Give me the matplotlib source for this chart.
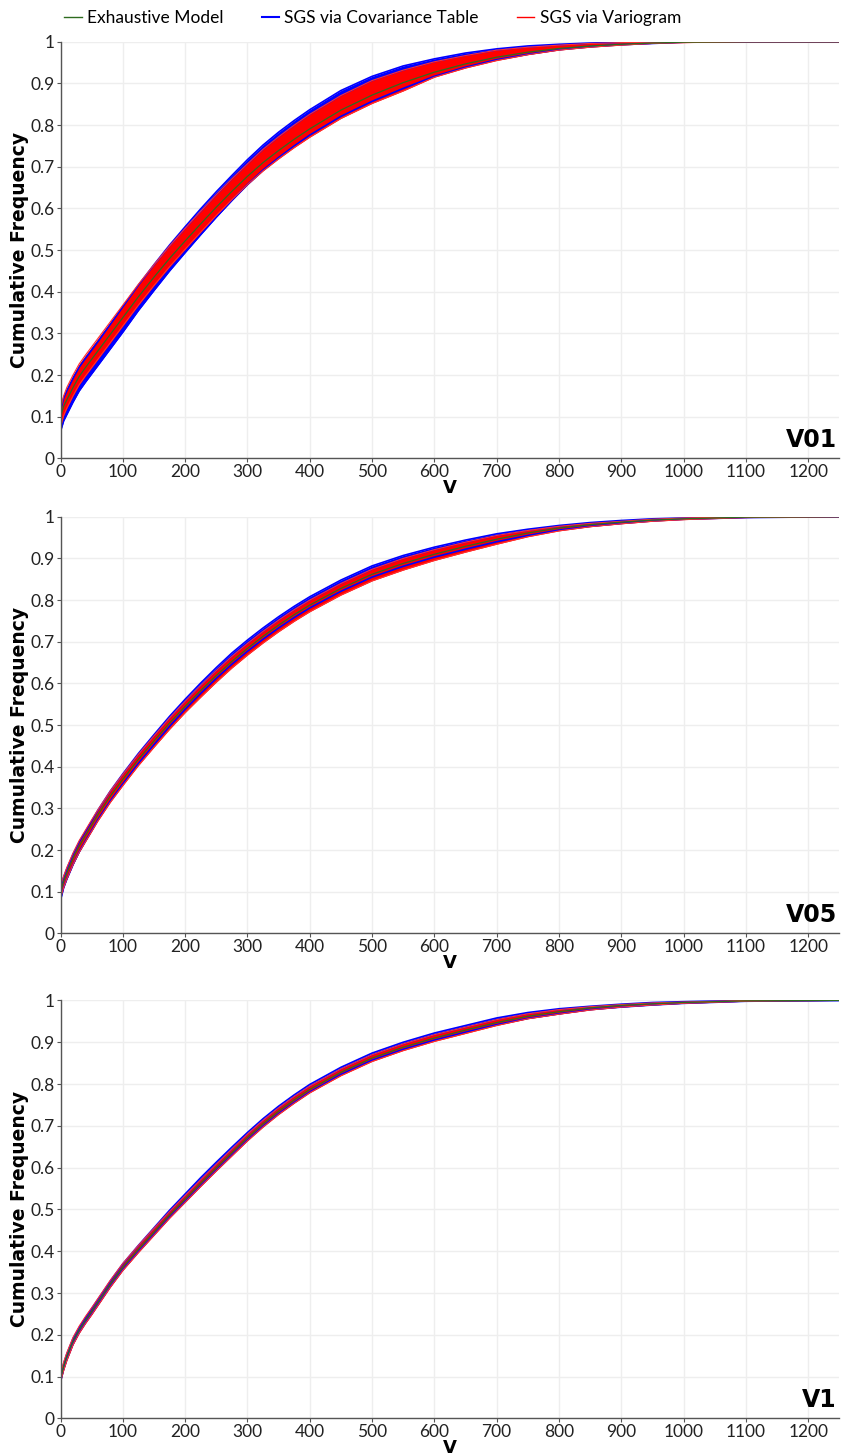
import numpy as np
import matplotlib
matplotlib.use('Agg')
import matplotlib.pyplot as plt

plt.rcParams['font.family'] = ['Lato', 'DejaVu Sans']

v_grid = [0, 5, 10, 20, 30, 40, 50, 60, 80, 100, 125, 150, 175, 200, 225, 250, 275, 300,
          325, 350, 375, 400, 450, 500, 550, 600, 650, 700, 750, 800, 850, 900, 950, 1000,
          1100, 1250]

# V01 : exhaustive model + envelopes of the two realisation sets
v01_green = [0.10, 0.125, 0.14, 0.17, 0.197, 0.218, 0.238, 0.258, 0.298, 0.338, 0.388, 0.435,
             0.48, 0.522, 0.563, 0.603, 0.641, 0.677, 0.71, 0.739, 0.766, 0.791, 0.836, 0.872,
             0.902, 0.927, 0.947, 0.963, 0.975, 0.984, 0.99, 0.994, 0.997, 0.999, 1.0, 1.0]
v01_red_hi = [0.12, 0.15, 0.17, 0.20, 0.227, 0.248, 0.268, 0.288, 0.328, 0.368, 0.418, 0.465,
              0.51, 0.552, 0.593, 0.633, 0.671, 0.707, 0.742, 0.772, 0.80, 0.826, 0.871, 0.907,
              0.932, 0.952, 0.967, 0.98, 0.987, 0.992, 0.996, 0.998, 0.999, 1.0, 1.0, 1.0]
v01_red_lo = [0.075, 0.103, 0.12, 0.15, 0.177, 0.198, 0.218, 0.238, 0.278, 0.318, 0.368, 0.415,
              0.46, 0.502, 0.543, 0.583, 0.621, 0.657, 0.69, 0.719, 0.746, 0.771, 0.816, 0.852,
              0.882, 0.915, 0.937, 0.955, 0.969, 0.98, 0.987, 0.992, 0.996, 0.998, 1.0, 1.0]
v01_blue_hi = [0.115, 0.145, 0.162, 0.192, 0.219, 0.24, 0.26, 0.28, 0.322, 0.364, 0.416, 0.465,
               0.512, 0.556, 0.599, 0.64, 0.679, 0.717, 0.752, 0.783, 0.811, 0.837, 0.883, 0.917,
               0.942, 0.959, 0.973, 0.983, 0.99, 0.994, 0.997, 0.999, 1.0, 1.0, 1.0, 1.0]
v01_blue_lo = [0.065, 0.09, 0.105, 0.135, 0.162, 0.183, 0.203, 0.223, 0.263, 0.303, 0.355, 0.403,
               0.45, 0.494, 0.537, 0.579, 0.619, 0.657, 0.692, 0.722, 0.75, 0.776, 0.821, 0.857,
               0.888, 0.917, 0.939, 0.957, 0.97, 0.981, 0.988, 0.993, 0.996, 0.999, 1.0, 1.0]

# V05
v05_green = [0.10, 0.125, 0.145, 0.18, 0.21, 0.235, 0.26, 0.285, 0.33, 0.37, 0.418, 0.462,
             0.505, 0.545, 0.583, 0.619, 0.653, 0.684, 0.713, 0.74, 0.765, 0.788, 0.828, 0.862,
             0.888, 0.91, 0.929, 0.946, 0.961, 0.973, 0.981, 0.987, 0.992, 0.995, 0.999, 1.0]
v05_red_hi = [0.115, 0.138, 0.158, 0.193, 0.223, 0.248, 0.273, 0.297, 0.342, 0.382, 0.43, 0.474,
              0.517, 0.557, 0.595, 0.631, 0.665, 0.696, 0.725, 0.752, 0.777, 0.80, 0.84, 0.874,
              0.90, 0.921, 0.939, 0.955, 0.967, 0.977, 0.984, 0.989, 0.994, 0.997, 1.0, 1.0]
v05_red_lo = [0.085, 0.11, 0.13, 0.165, 0.195, 0.22, 0.245, 0.27, 0.315, 0.355, 0.403, 0.447,
              0.49, 0.53, 0.567, 0.603, 0.637, 0.668, 0.697, 0.724, 0.749, 0.772, 0.812, 0.846,
              0.872, 0.895, 0.915, 0.934, 0.952, 0.966, 0.976, 0.983, 0.989, 0.993, 0.998, 1.0]
v05_blue_hi = [0.11, 0.135, 0.155, 0.19, 0.22, 0.245, 0.27, 0.296, 0.342, 0.383, 0.432, 0.477,
               0.521, 0.562, 0.601, 0.638, 0.673, 0.704, 0.733, 0.76, 0.785, 0.808, 0.848, 0.882,
               0.907, 0.927, 0.944, 0.959, 0.97, 0.979, 0.986, 0.991, 0.995, 0.997, 1.0, 1.0]
v05_blue_lo = [0.08, 0.11, 0.13, 0.165, 0.196, 0.222, 0.247, 0.273, 0.318, 0.359, 0.408, 0.453,
               0.497, 0.538, 0.576, 0.612, 0.646, 0.677, 0.706, 0.733, 0.758, 0.781, 0.821, 0.855,
               0.881, 0.903, 0.922, 0.94, 0.955, 0.968, 0.977, 0.984, 0.99, 0.994, 0.998, 1.0]

# V1
v1_green = [0.095, 0.125, 0.148, 0.185, 0.212, 0.235, 0.256, 0.278, 0.322, 0.362, 0.405, 0.446,
            0.487, 0.525, 0.563, 0.60, 0.636, 0.672, 0.705, 0.735, 0.762, 0.787, 0.828, 0.862,
            0.888, 0.91, 0.929, 0.947, 0.962, 0.973, 0.982, 0.988, 0.992, 0.995, 0.999, 1.0]
v1_red_hi = [0.105, 0.135, 0.157, 0.194, 0.221, 0.244, 0.265, 0.287, 0.331, 0.371, 0.414, 0.455,
             0.495, 0.533, 0.571, 0.608, 0.644, 0.68, 0.713, 0.743, 0.77, 0.795, 0.836, 0.87,
             0.896, 0.918, 0.936, 0.954, 0.968, 0.978, 0.985, 0.99, 0.994, 0.996, 1.0, 1.0]
v1_red_lo = [0.088, 0.115, 0.138, 0.176, 0.204, 0.227, 0.248, 0.27, 0.314, 0.354, 0.397, 0.438,
             0.479, 0.517, 0.555, 0.592, 0.628, 0.664, 0.697, 0.727, 0.754, 0.779, 0.82, 0.854,
             0.88, 0.902, 0.921, 0.94, 0.956, 0.967, 0.977, 0.984, 0.989, 0.993, 0.998, 1.0]
v1_blue_hi = [0.10, 0.131, 0.154, 0.191, 0.218, 0.241, 0.263, 0.285, 0.329, 0.37, 0.414, 0.456,
              0.498, 0.537, 0.576, 0.613, 0.649, 0.684, 0.717, 0.747, 0.774, 0.799, 0.84, 0.874,
              0.90, 0.922, 0.94, 0.958, 0.971, 0.98, 0.986, 0.991, 0.995, 0.997, 1.0, 1.0]
v1_blue_lo = [0.088, 0.118, 0.141, 0.178, 0.206, 0.229, 0.25, 0.272, 0.316, 0.356, 0.399, 0.44,
              0.481, 0.519, 0.557, 0.594, 0.63, 0.666, 0.699, 0.729, 0.756, 0.781, 0.823, 0.857,
              0.883, 0.905, 0.924, 0.942, 0.957, 0.968, 0.978, 0.984, 0.989, 0.993, 0.998, 1.0]

panel_names = ['V01', 'V05', 'V1']
x_ticks = list(range(0, 1300, 100))
y_ticks = [0, 0.1, 0.2, 0.3, 0.4, 0.5, 0.6, 0.7, 0.8, 0.9, 1]
y_tick_labels = ['0', '0.1', '0.2', '0.3', '0.4', '0.5', '0.6', '0.7', '0.8', '0.9', '1']

panels = [
    (v01_green, v01_red_lo, v01_red_hi, v01_blue_lo, v01_blue_hi),
    (v05_green, v05_red_lo, v05_red_hi, v05_blue_lo, v05_blue_hi),
    (v1_green, v1_red_lo, v1_red_hi, v1_blue_lo, v1_blue_hi),
]

fig = plt.figure(figsize=(8.41, 14.56), dpi=100)
# axes boxes in figure fraction [left, bottom, width, height]
boxes = [[0.072, 0.6852, 0.926, 0.2861],
         [0.072, 0.3589, 0.926, 0.2862],
         [0.072, 0.0258, 0.926, 0.2871]]

for box, data, name in zip(boxes, panels, panel_names):
    ax = fig.add_axes(box)
    green, red_lo, red_hi, blue_lo, blue_hi = data

    # blue realisations behind, red on top, exhaustive model last
    ax.fill_between(v_grid, blue_lo, blue_hi, color='#0000ff', lw=0)
    ax.plot(v_grid, blue_lo, color='#0000ff', lw=1.2)
    ax.plot(v_grid, blue_hi, color='#0000ff', lw=1.2)
    ax.fill_between(v_grid, red_lo, red_hi, color='#ff0000', lw=0)
    ax.plot(v_grid, red_lo, color='#ff3030', lw=0.8)
    ax.plot(v_grid, red_hi, color='#ff3030', lw=0.8)
    ax.plot(v_grid, green, color='#2e6b1f', lw=0.9)

    ax.set_xlim(0, 1250)
    ax.set_ylim(0, 1)
    ax.set_xticks(x_ticks)
    ax.set_xticklabels([str(t) for t in x_ticks], fontsize=12.5, color='#222222')
    ax.set_yticks(y_ticks)
    ax.set_yticklabels(y_tick_labels, fontsize=12.5, color='#222222')
    ax.tick_params(length=3, width=0.8, color='#555555', pad=1)
    ax.grid(True, color='#eeeeee', lw=1)
    ax.set_axisbelow(True)
    for s in ['top', 'right']:
        ax.spines[s].set_visible(False)
    for s in ['left', 'bottom']:
        ax.spines[s].set_color('#555555')
        ax.spines[s].set_linewidth(1)

    ax.set_xlabel('V', fontsize=13, fontweight='bold', family='DejaVu Sans', labelpad=-1)
    ax.set_ylabel('Cumulative Frequency', fontsize=13.5, fontweight='bold',
                  family='DejaVu Sans', labelpad=1)
    ax.text(0.997, 0.015, name, transform=ax.transAxes, ha='right', va='bottom',
            fontsize=17, fontweight='bold', family='DejaVu Sans', color='black')

# legend along the top
handles = [plt.Line2D([], [], color='#2e6b1f', lw=1),
           plt.Line2D([], [], color='#0000ff', lw=1.5),
           plt.Line2D([], [], color='#ff0000', lw=1)]
labels = ['Exhaustive Model', 'SGS via Covariance Table', 'SGS via Variogram']
fig.legend(handles, labels, loc='upper left', bbox_to_anchor=(0.058, 1.004), ncol=3,
           frameon=False, fontsize=12.5, handlelength=1.0, handletextpad=0.3,
           columnspacing=2.2)

fig.savefig('out.png', dpi=100)
